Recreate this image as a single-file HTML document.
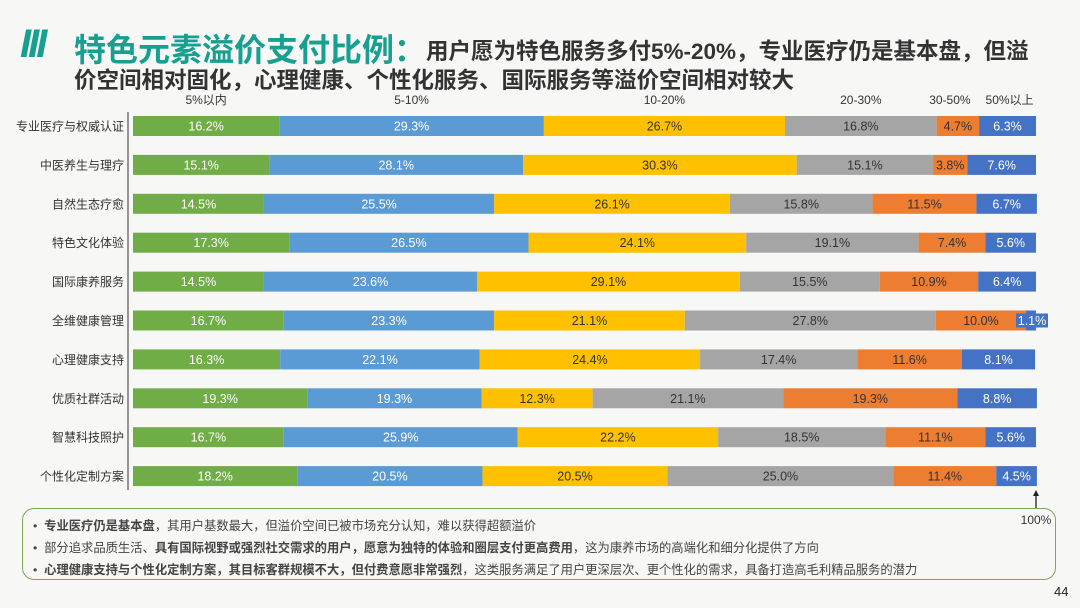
<!DOCTYPE html>
<html><head><meta charset="utf-8">
<style>
body{margin:0;width:1080px;height:608px;overflow:hidden;background:#f7f7f6;font-family:"Liberation Sans","Noto Sans CJK SC",sans-serif;position:relative}
.t{position:absolute;white-space:nowrap}
</style></head><body>
<div class="t" style="left:20px;top:22px;font-size:40px;font-weight:bold;font-style:italic;color:#17a090;letter-spacing:-3px">III</div>
<div class="t" style="left:74px;top:25px;font-size:32px;font-weight:bold;color:#17a090">特色元素溢价支付比例：</div>
<div class="t" style="left:426px;top:34px;font-size:22.5px;font-weight:bold;color:#333">用户愿为特色服务多付5%-20%，专业医疗仍是基本盘，但溢</div>
<div class="t" style="left:74px;top:63px;font-size:22.5px;font-weight:bold;color:#333">价空间相对固化，心理健康、个性化服务、国际服务等溢价空间相对较大</div>
<svg id="chart" width="1080" height="608" style="position:absolute;left:0;top:0"></svg>
<div style="position:absolute;left:22px;top:508px;width:1032px;height:70px;border:1.5px solid #7aaa5a;border-radius:12px;font-size:12.3px;color:#444">
<div style="position:absolute;left:10px;top:7px">•&nbsp; <b>专业医疗仍是基本盘</b>，其用户基数最大，但溢价空间已被市场充分认知，难以获得超额溢价</div>
<div style="position:absolute;left:10px;top:29px">•&nbsp; 部分追求品质生活、<b>具有国际视野或强烈社交需求的用户，愿意为独特的体验和圈层支付更高费用</b>，这为康养市场的高端化和细分化提供了方向</div>
<div style="position:absolute;left:10px;top:51px">•&nbsp; <b>心理健康支持与个性化定制方案，其目标客群规模不大，但付费意愿非常强烈</b>，这类服务满足了用户更深层次、更个性化的需求，具备打造高毛利精品服务的潜力</div>
</div>
<div class="t" style="left:1054px;top:584px;font-size:13px;color:#222">44</div>
<script>
const categories=["专业医疗与权威认证","中医养生与理疗","自然生态疗愈","特色文化体验","国际康养服务","全维健康管理","心理健康支持","优质社群活动","智慧科技照护","个性化定制方案"];
const seriesNames=["5%以内","5-10%","10-20%","20-30%","30-50%","50%以上"];
const s1=[16.2,15.1,14.5,17.3,14.5,16.7,16.3,19.3,16.7,18.2];
const s2=[29.3,28.1,25.5,26.5,23.6,23.3,22.1,19.3,25.9,20.5];
const s3=[26.7,30.3,26.1,24.1,29.1,21.1,24.4,12.3,22.2,20.5];
const s4=[16.8,15.1,15.8,19.1,15.5,27.8,17.4,21.1,18.5,25.0];
const s5=[4.7,3.8,11.5,7.4,10.9,10.0,11.6,19.3,11.1,11.4];
const s6=[6.3,7.6,6.7,5.6,6.4,1.1,8.1,8.8,5.6,4.5];
const series=[s1,s2,s3,s4,s5,s6];
const colors=["#70ad47","#5b9bd5","#ffc000","#a5a5a5","#ed7d31","#4472c4"];
const textCol=["#fff","#fff","#333","#333","#333","#fff"];
const NS="http://www.w3.org/2000/svg";
const svg=document.getElementById('chart');
const x0=133,x1=1036,y0=126,dy=38.9,bh=20;
const xs=v=>x0+(x1-x0)*v/100;
const yc=i=>y0+i*dy;
function mk(tag,attrs){const e=document.createElementNS(NS,tag);for(const k in attrs)e.setAttribute(k,attrs[k]);svg.appendChild(e);return e;}
const ax=mk('line',{x1:128,x2:128,y1:112,y2:490,stroke:'#333','stroke-width':1});


categories.forEach((c,i)=>{
  const t=mk('text',{x:124,y:yc(i)+4.5,'text-anchor':'end','font-size':12,fill:'#333'});
  t.textContent=c;
  
  
  let acc=0;
  series.forEach((s,j)=>{
    const v=s[i];
    const r=mk('rect',{x:xs(acc),y:yc(i)-bh/2,width:xs(acc+v)-xs(acc),height:bh,fill:colors[j]});
    
    
    let cx=(xs(acc)+xs(acc+v))/2;
    if(v<2){cx=xs(acc+v)-5;const b=mk('rect',{x:cx-15,y:yc(i)-7,width:32,height:14,fill:colors[j]});cx+=1;}
    const l=mk('text',{x:cx,y:yc(i)+4.5,'text-anchor':'middle','font-size':12.5,fill:textCol[j]});
    l.textContent=v.toFixed(1)+'%';
    
    
    acc+=v;
  });
});
let acc=0;
series.forEach((s,j)=>{
  const v=s[0];
  let cx=(xs(acc)+xs(acc+v))/2;
  if(j==4)cx-=8; if(j==5)cx+=2;
  const h=mk('text',{x:cx,y:104,'text-anchor':'middle','font-size':12,fill:'#333'});
  h.textContent=seriesNames[j];
  
  
  acc+=v;
});
const ar=mk('line',{x1:x1,x2:x1,y1:508,y2:494,stroke:'#222','stroke-width':1.3});


const ah=mk('polygon',{points:`${x1-3},496 ${x1+3},496 ${x1},490`,fill:'#222'});


const at=mk('text',{x:x1,y:524,'text-anchor':'middle','font-size':12,fill:'#333'});
at.textContent='100%';


</script>
</body></html>
